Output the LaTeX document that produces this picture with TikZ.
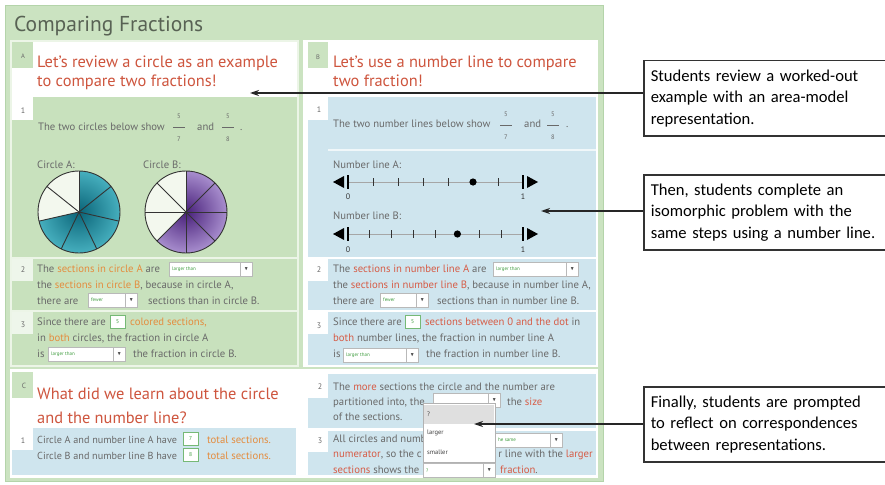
\documentclass[tikz,border=0pt]{standalone}
\usepackage{fontspec}
\setmainfont{PT Sans}
\newfontfamily\notefont{Carlito}
\usepackage{amssymb}
\usepackage{tikz}
\usetikzlibrary{arrows.meta, positioning, calc}
\definecolor{appgreen}{RGB}{203,227,193}
\definecolor{appedge}{RGB}{180,212,170}
\definecolor{rowgreen}{RGB}{200,225,189}
\definecolor{panelbase}{RGB}{236,245,231}
\definecolor{rowblue}{RGB}{207,229,238}
\definecolor{headred}{RGB}{206,85,62}
\definecolor{titlegray}{RGB}{88,98,84}
\definecolor{bodygray}{RGB}{105,105,105}
\definecolor{hlorange}{RGB}{228,140,62}
\definecolor{hlred}{RGB}{214,92,70}
\definecolor{inputgreen}{RGB}{60,155,60}
\definecolor{tealin}{RGB}{10,100,120}
\definecolor{tealout}{RGB}{70,175,190}
\definecolor{purpin}{RGB}{72,32,122}
\definecolor{purpout}{RGB}{168,142,206}
\definecolor{pieblank}{RGB}{243,248,238}
\newcommand{\hlo}[1]{\textcolor{hlorange}{#1}}
\newcommand{\hlr}[1]{\textcolor{hlred}{#1}}
% dropdown: name, left x, top y, width, label
\newcommand{\ddown}[5]{%
  \node[ddbox, minimum width=#4pt] (#1) at (#2,#3) {};
  \node[ddbtn] (#1b) at (#1.east) {$\blacktriangledown$};
  \node[ddtxt] (#1t) at ([xshift=3pt]#1.west) {#5};}
% fraction: name, x, y of bar, numerator, denominator
\newcommand{\frc}[5]{%
  \node[fracnum] (#1n) at (#2,#3-11) {#4};
  \draw[fracbar] (#2-6,#3) -- (#2+6,#3);
  \node[fracnum] (#1d) at (#2,#3+12) {#5};}
\tikzset{
  txt/.style={anchor=base west, inner sep=0pt, text=bodygray,
    font=\fontsize{10.7}{12}\selectfont},
  headtxt/.style={anchor=base west, inner sep=0pt, text=headred,
    font=\fontsize{16.4}{19}\selectfont},
  titletxt/.style={anchor=base west, inner sep=0pt, text=titlegray,
    font=\fontsize{21.5}{24}\selectfont},
  tabtxt/.style={inner sep=0pt, text=bodygray, font=\fontsize{8}{9}\selectfont},
  fracnum/.style={inner sep=0pt, text=bodygray, font=\fontsize{6.5}{7}\selectfont},
  fracbar/.style={draw=bodygray, line width=0.5pt},
  ddbox/.style={draw=gray!55, fill=white, anchor=north west,
    minimum height=14pt, inner sep=0pt, line width=0.5pt},
  ddbtn/.style={anchor=east, draw=gray!55, fill=white, minimum width=12pt,
    minimum height=14pt, inner sep=0pt, text=black!70, line width=0.5pt,
    font=\fontsize{5}{5}\selectfont},
  ddtxt/.style={anchor=west, inner sep=0pt, text=inputgreen,
    font=\fontsize{5}{6}\selectfont},
  numbox/.style={draw=inputgreen!70, fill=white, anchor=north west,
    minimum width=15pt, minimum height=13pt, inner sep=0pt, text=inputgreen,
    font=\fontsize{5.5}{6}\selectfont},
  listtxt/.style={anchor=west, inner sep=0pt, text=black!75,
    font=\fontsize{6.5}{7}\selectfont},
  numtxt/.style={inner sep=0pt, text=black!80, font=\fontsize{8}{9}\selectfont},
  pieline/.style={draw=black!80, line width=0.9pt},
  nline/.style={draw=gray!70, line width=0.6pt},
  ntick/.style={draw=black!80, line width=0.8pt},
  nend/.style={draw=black, line width=1.2pt},
  note/.style={draw=black!80, line width=1.5pt, fill=white, anchor=north west,
    text width=229pt, inner xsep=7pt, minimum height=75pt, align=left,
    font=\notefont\fontsize{16.6}{21.5}\selectfont},
  callarrow/.style={-{Stealth[length=9pt,width=6pt]}, line width=1.3pt, draw=black!85}
}
\begin{document}
\begin{tikzpicture}[x=1pt, y=-1pt]
  \useasboundingbox (0,0) rectangle (885,484);
  \fill[white] (0,0) rectangle (885,484);

  % App frame and title
  \filldraw[fill=appgreen, draw=appedge, line width=0.8pt] (5,5) rectangle (603,481);
  \node[titletxt] (title) at (14,31.5) {Comparing Fractions};

  % Panel A
  \fill[panelbase] (10,40) rectangle (299,367);
  \fill[rowgreen] (12,42) rectangle (297,257);
  \fill[rowgreen] (12,259) rectangle (297,310);
  \fill[rowgreen] (12,312) rectangle (297,365);
  \fill[white] (33,42) rectangle (297,97);
  \fill[white] (12,68) rectangle (33,97);
  \fill[white] (12,97) rectangle (33,120);
  \fill[white!70!rowgreen] (12,259) rectangle (33,281);
  \fill[white!70!rowgreen] (12,312) rectangle (33,334);
  \node[tabtxt, font=\fontsize{6.5}{7}\selectfont] (alab) at (23,56) {A};
  \node[headtxt] (ahead1) at (37,68) {Let's review a circle as an example};
  \node[headtxt] (ahead2) at (37,87) {to compare two fractions!};

  % Panel B
  \fill[white] (303,40) rectangle (598,367);
  \fill[rowblue] (308,97) rectangle (596,257);
  \fill[rowblue] (308,259) rectangle (596,310);
  \fill[rowblue] (308,312) rectangle (596,365);
  \fill[appgreen] (308,42) rectangle (328,68);
  \fill[white] (308,97) rectangle (328,120);
  \fill[white] (308,259) rectangle (328,281);
  \fill[white] (308,312) rectangle (328,334);
  \draw[white, line width=1.5pt, opacity=0.7] (328,150) -- (596,150);
  \node[tabtxt, font=\fontsize{6.5}{7}\selectfont] (blab) at (318,57) {B};
  \node[headtxt] (bhead1) at (333,68) {Let's use a number line to compare};
  \node[headtxt] (bhead2) at (333,87) {two fraction!};

  % Panel C
  \fill[white] (10,369) rectangle (598,478);
  \fill[appgreen] (12,372) rectangle (33,398);
  \fill[rowblue] (12,428) rectangle (296,475);
  \fill[rowblue] (308,374) rectangle (596,428);
  \fill[rowblue] (308,431) rectangle (596,475);
  \fill[white] (12,428) rectangle (33,450);
  \fill[white] (308,374) rectangle (328,398);
  \fill[white] (308,431) rectangle (328,452);
  \node[tabtxt, font=\fontsize{7.5}{8}\selectfont] (clab) at (24,386) {C};
  \node[headtxt] (chead1) at (37,399) {What did we learn about the circle};
  \node[headtxt] (chead2) at (37,423) {and the number line?};

  % A, step 1
  \node[tabtxt] (a1n) at (23,111) {1};
  \node[txt] (a1t) at (38,131) {The two circles below show};
  \frc{a1f}{179}{127}{5}{7}
  \node[txt] (a1and) at (197,131) {and};
  \frc{a1g}{228}{127}{5}{8}
  \node[txt] (a1dot) at (240,131) {.};
  \node[txt] (calab) at (37,168) {Circle A:};
  \node[txt] (cblab) at (143,168) {Circle B:};

  % Circle A, 5 of 7
  \begin{scope}[shift={(79,212)}, y=1pt]
    \fill[pieblank] (0,0) circle (41pt);
    \begin{scope}
      \clip (0,0) -- (90:41) arc[start angle=90, end angle=-167.143, radius=41pt] -- cycle;
      \shade[inner color=tealin, outer color=tealout] (0,0) circle (41pt);
    \end{scope}
    \foreach \k in {0,...,6} \draw[pieline] (0,0) -- ({90-\k*360/7}:41);
    \draw[pieline] (0,0) circle (41pt);
  \end{scope}

  % Circle B, 5 of 8
  \begin{scope}[shift={(186,212)}, y=1pt]
    \fill[pieblank] (0,0) circle (41pt);
    \begin{scope}
      \clip (0,0) -- (90:41) arc[start angle=90, end angle=-135, radius=41pt] -- cycle;
      \shade[inner color=purpin, outer color=purpout] (0,0) circle (41pt);
    \end{scope}
    \foreach \k in {0,...,7} \draw[pieline] (0,0) -- ({90-\k*45}:41);
    \draw[pieline] (0,0) circle (41pt);
  \end{scope}

  % A, step 2
  \node[tabtxt] (a2n) at (23,270) {2};
  \node[txt] (a2l1) at (37,272) {The \hlo{sections in circle A} are};
  \ddown{a2d1}{169}{262}{83}{larger than}
  \node[txt] (a2l2) at (37,288) {the \hlo{sections in circle B}, because in circle A,};
  \node[txt] (a2l3) at (37,304) {there are};
  \ddown{a2d2}{88}{293}{49}{fewer}
  \node[txt] (a2l3b) at (148,304) {sections than in circle B.};

  % A, step 3
  \node[tabtxt] (a3n) at (23,325) {3};
  \node[txt] (a3l1) at (37,325) {Since there are};
  \node[numbox] (a3b) at (110,315) {5};
  \node[txt] (a3l1b) at (130,325) {\hlo{colored sections,}};
  \node[txt] (a3l2) at (37,341) {in \hlo{both} circles, the fraction in circle A};
  \node[txt] (a3l3) at (37,357) {is};
  \ddown{a3d}{48}{347}{77}{larger than}
  \node[txt] (a3l3b) at (133,357) {the fraction in circle B.};

  % B, step 1
  \node[tabtxt] (b1n) at (319,110) {1};
  \node[txt] (b1t) at (333,128) {The two number lines below show};
  \frc{b1f}{506}{125}{5}{7}
  \node[txt] (b1and) at (524,128) {and};
  \frc{b1g}{553}{125}{5}{8}
  \node[txt] (b1dot) at (566,128) {.};
  \node[txt] (nalab) at (333,168) {Number line A:};
  \node[txt] (nblab) at (333,219) {Number line B:};

  % Number line A, 7 sections
  \draw[nline] (348,182) -- (523,182);
  \foreach \k in {1,2,3,4,6} \draw[ntick] ({348+\k*25},178) -- ({348+\k*25},186);
  \draw[nend] (348,175) -- (348,189);
  \draw[nend] (523,175) -- (523,189);
  \fill[black] (333,182) -- (344,176) -- (344,188) -- cycle;
  \fill[black] (538,182) -- (527,176) -- (527,188) -- cycle;
  \fill[black] (473,182) circle (3.6pt);
  \node[numtxt] (na0) at (348,197) {0};
  \node[numtxt] (na1) at (523,197) {1};

  % Number line B, 8 sections
  \draw[nline] (348,234) -- (523,234);
  \foreach \k in {1,2,3,4,6,7} \draw[ntick] ({348+\k*21.875},230) -- ({348+\k*21.875},238);
  \draw[nend] (348,227) -- (348,241);
  \draw[nend] (523,227) -- (523,241);
  \fill[black] (333,234) -- (344,228) -- (344,240) -- cycle;
  \fill[black] (538,234) -- (527,228) -- (527,240) -- cycle;
  \fill[black] (457.4,234) circle (3.6pt);
  \node[numtxt] (nb0) at (348,250) {0};
  \node[numtxt] (nb1) at (523,250) {1};

  % B, step 2
  \node[tabtxt] (b2n) at (319,270) {2};
  \node[txt] (b2l1) at (333,272) {The \hlr{sections in number line A} are};
  \ddown{b2d1}{493}{262}{85}{larger than}
  \node[txt] (b2l2) at (333,288) {the \hlr{sections in number line B}, because in number line A,};
  \node[txt] (b2l3) at (333,304) {there are};
  \ddown{b2d2}{380}{293}{48}{fewer}
  \node[txt] (b2l3b) at (437,304) {sections than in number line B.};

  % B, step 3
  \node[tabtxt] (b3n) at (319,326) {3};
  \node[txt] (b3l1) at (333,325) {Since there are};
  \node[numbox] (b3b) at (405,315) {5};
  \node[txt] (b3l1b) at (425,325) {\hlr{sections between 0 and the dot} in};
  \node[txt] (b3l2) at (333,341) {\hlr{both} number lines, the fraction in number line A};
  \node[txt] (b3l3) at (333,357) {is};
  \ddown{b3d}{343}{348}{75}{larger than}
  \node[txt] (b3l3b) at (426,357) {the fraction in number line B.};

  % C, step 1
  \node[tabtxt] (c1n) at (23,441) {1};
  \node[txt, font=\fontsize{10.2}{12}\selectfont] (c1l1) at (37,443) {Circle A and number line A have};
  \node[numbox] (c1b1) at (183,432) {7};
  \node[txt] (c1l1b) at (207,443) {\hlo{total sections.}};
  \node[txt, font=\fontsize{10.2}{12}\selectfont] (c1l2) at (37,459) {Circle B and number line B have};
  \node[numbox] (c1b2) at (183,448) {8};
  \node[txt] (c1l2b) at (207,459) {\hlo{total sections.}};

  % C, step 2
  \node[tabtxt] (c2n) at (320,387) {2};
  \node[txt] (c2l1) at (333,390) {The \hlr{more} sections the circle and the number are};
  \node[txt] (c2l2) at (333,405) {partitioned into, the};
  \ddown{c2d}{433}{393}{67}{}
  \node[txt] (c2l2b) at (507,405) {the \hlr{size}};
  \node[txt] (c2l3) at (333,420) {of the sections.};

  % C, step 3 (partly hidden under the open list)
  \node[tabtxt] (c3n) at (320,441) {3};
  \node[txt] (c3l1) at (333,442) {All circles and numb};
  \ddown{c3d1}{495}{433}{67}{he same}
  \node[txt] (c3l2) at (333,457) {\hlr{numerator}, so the c};
  \node[txt, anchor=base east] (c3l2b) at (593,457) {r line with the \hlr{larger}};
  \node[txt] (c3l3) at (333,473) {\hlr{sections} shows the};
  \ddown{c3d2}{423}{463}{72}{?}
  \node[txt] (c3l3b) at (500,473) {\hlr{fraction}.};

  % Open list of the step 2 dropdown
  \filldraw[fill=white, draw=gray!60, line width=0.5pt] (423,403) rectangle (495,462);
  \fill[gray!25] (424,405) rectangle (494,424);
  \node[listtxt] (clq) at (427,414) {?};
  \node[listtxt] (cll) at (427,433) {larger};
  \node[listtxt] (cls) at (427,452) {smaller};

  % Callouts
  \node[note] (noteA) at (643,60) {Students review a worked-out\\ example with an area-model\\ representation.};
  \node[note] (noteB) at (643,174) {Then, students complete an\\ isomorphic problem with the\\ same steps using a number line.};
  \node[note] (noteC) at (643,386) {Finally, students are prompted\\ to reflect on correspondences\\ between representations.};
  \coordinate (tipA) at (250,93);
  \coordinate (tipB) at (541,211);
  \coordinate (tipC) at (474,424);
  \draw[callarrow] (tipA -| noteA.west) -- (tipA);
  \draw[callarrow] (tipB -| noteB.west) -- (tipB);
  \draw[callarrow] (tipC -| noteC.west) -- (tipC);
\end{tikzpicture}
\end{document}
